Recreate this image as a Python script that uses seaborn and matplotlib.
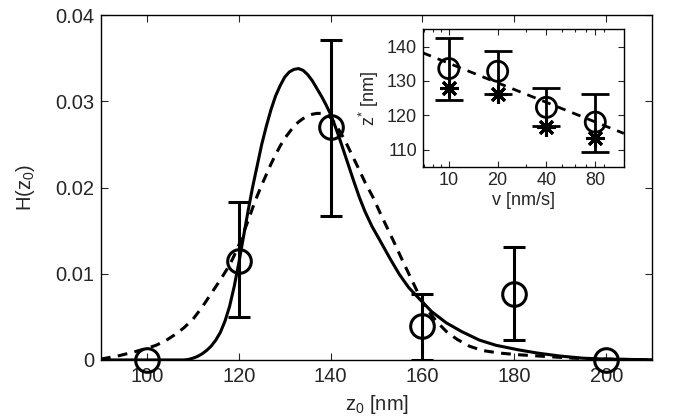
import numpy as np
import pandas as pd
import matplotlib
matplotlib.use("Agg")
import matplotlib.pyplot as plt
from matplotlib.ticker import FixedLocator, NullFormatter
import seaborn as sns

# main panel: histogram points with error bars
z_pts = [100, 120, 140, 160, 180, 200]
h_pts = [0.0, 0.0115, 0.0270, 0.0039, 0.0077, 0.0]
z_err = [120, 140, 160, 180]
h_err = [0.0115, 0.0270, 0.0039, 0.0077]
h_lo = [0.0050, 0.0167, 0.0, 0.0023]
h_hi = [0.0183, 0.0371, 0.0077, 0.0131]

# solid model curve
solid_z = [90, 105, 108, 109, 110, 111, 112, 113, 114, 115, 116, 117, 118, 119, 120, 121,
           122, 123, 124, 125, 126, 127, 128, 129, 130, 131, 132, 133, 134, 135, 136, 137,
           138, 139, 140, 141, 142, 143, 144, 145, 146.3, 147.5, 149, 150.7, 153, 155, 157,
           159.3, 162, 165.2, 168.5, 172.4, 176, 181, 185, 189.8, 195, 200, 210]
solid_h = [0, 0, 0, 0.00005, 0.0002, 0.0004, 0.0007, 0.0011, 0.0016, 0.0023, 0.0032, 0.0045,
           0.0062, 0.0085, 0.0112, 0.0142, 0.0172, 0.0200, 0.0225, 0.0250, 0.0271, 0.0290,
           0.0306, 0.0318, 0.0328, 0.0334, 0.0337, 0.0338, 0.0336, 0.0331, 0.0324, 0.0315,
           0.0306, 0.0296, 0.0285, 0.0271, 0.0256, 0.0240, 0.0224, 0.0208, 0.0188, 0.0172,
           0.0155, 0.0139, 0.0117, 0.0099, 0.0084, 0.0071, 0.0056, 0.0043, 0.0033, 0.0023,
           0.0017, 0.00116, 0.0008, 0.00046, 0.0002, 0.0001, 0.00002]

# dashed model curve
dash_z = [90, 92, 94, 97, 100, 102, 104, 106, 108, 110, 112, 114, 116, 118, 119, 120, 121,
          122, 123, 124, 125, 126, 127, 128, 129, 130, 131, 132, 133, 134, 135, 136, 137,
          138, 139, 140, 141, 142, 143, 144, 145, 146, 147.5, 149.2, 151, 153.6, 155.5,
          157.2, 159, 160.8, 163, 165.2, 167.5, 170.2, 173, 176.7, 181, 186.9, 193, 200, 210]
dash_h = [0.0001, 0.0003, 0.0005, 0.0009, 0.00135, 0.0017, 0.0022, 0.0029, 0.0037, 0.0047,
          0.0061, 0.0077, 0.0093, 0.0110, 0.0121, 0.0133, 0.0147, 0.0161, 0.0176, 0.0190,
          0.0203, 0.0215, 0.0227, 0.0238, 0.0248, 0.0257, 0.0264, 0.0271, 0.0276, 0.0280,
          0.0283, 0.0285, 0.0286, 0.0286, 0.0285, 0.0281, 0.0274, 0.0265, 0.0256, 0.0245,
          0.0234, 0.0223, 0.0206, 0.0189, 0.0168, 0.0139, 0.0117, 0.0098, 0.0078, 0.0060,
          0.0045, 0.0033, 0.0024, 0.0016, 0.0011, 0.0008, 0.0006, 0.0004, 0.0002, 0.0001, 0.0]

# inset: z* vs pulling speed
v_pts = [10, 20, 40, 80]
zs_circ = [133.6, 132.8, 122.3, 118.0]
zs_lo = [124.3, 126.3, 116.8, 109.3]
zs_hi = [142.5, 138.8, 128.0, 126.3]
zs_star = [128.0, 126.3, 116.5, 113.5]
v_fit = [6.9, 120]
zs_fit = [138.2, 114.7]

sns.set_style("white")
plt.rcParams['font.family'] = ['Liberation Sans', 'DejaVu Sans']
plt.rcParams['mathtext.default'] = 'regular'
plt.rcParams['axes.linewidth'] = 1.0
plt.rcParams['xtick.direction'] = 'in'
plt.rcParams['ytick.direction'] = 'in'

fig = plt.figure(figsize=(6.73, 4.2), dpi=100)
ax = fig.add_axes([0.150, 0.143, 0.819, 0.821])

sns.lineplot(x=solid_z, y=solid_h, color='k', lw=2.2, ax=ax, sort=False)
sns.lineplot(x=dash_z, y=dash_h, color='k', lw=2.2, ax=ax, sort=False,
             linestyle=(0, (3.2, 2.4)))
ax.errorbar(z_err, h_err,
            yerr=[np.subtract(h_err, h_lo), np.subtract(h_hi, h_err)],
            fmt='none', ecolor='k', elinewidth=2.2, capsize=8, capthick=2.2)
ax.plot(z_pts, h_pts, 'o', ms=17, mfc='none', mec='k', mew=2.2, clip_on=False, zorder=5)

ax.set_xlim(90, 210)
ax.set_ylim(0, 0.04)
ax.set_xticks([100, 120, 140, 160, 180, 200])
ax.set_yticks([0, 0.01, 0.02, 0.03, 0.04])
ax.set_yticklabels(['0', '0.01', '0.02', '0.03', '0.04'])
ax.tick_params(labelsize=14.5, length=5, width=0.8, bottom=True, left=True,
               top=True, right=True, pad=5)
ax.set_xlabel('z$_0$ [nm]', fontsize=14.5, labelpad=5)
ax.set_ylabel('H(z$_0$)', fontsize=14.5, labelpad=13)
for s in ax.spines.values():
    s.set_color('k')

# inset
axi = fig.add_axes([0.628, 0.603, 0.299, 0.327])
axi.set_xscale('log')
axi.plot(v_fit, zs_fit, color='k', lw=2.0, linestyle=(0, (3.2, 2.6)))
axi.errorbar(v_pts, zs_circ,
             yerr=[np.subtract(zs_circ, zs_lo), np.subtract(zs_hi, zs_circ)],
             fmt='none', ecolor='k', elinewidth=2.0, capsize=10, capthick=2.0)
sns.scatterplot(x=v_pts, y=zs_circ, ax=axi, marker='o', s=210, facecolor='none',
                edgecolor='k', linewidth=2.0, zorder=5)
axi.plot(v_pts, zs_star, linestyle='none', marker=(8, 2, 0), ms=13, mec='k', mew=2.2, zorder=6)
axi.set_xlim(6.9, 120)
axi.set_ylim(105, 145)
axi.xaxis.set_major_locator(FixedLocator(v_pts))
axi.set_xticklabels([str(v) for v in v_pts])
axi.xaxis.set_minor_formatter(NullFormatter())
axi.set_yticks([110, 120, 130, 140])
axi.tick_params(which='both', labelsize=13, bottom=True, left=True, top=True, right=True,
                width=0.8, pad=4)
axi.tick_params(which='major', length=4)
axi.tick_params(which='minor', length=2)
axi.set_xlabel('v [nm/s]', fontsize=13, labelpad=2)
axi.set_ylabel('z$^{*}$ [nm]', fontsize=13, labelpad=4)
for s in axi.spines.values():
    s.set_color('k')

fig.savefig('out.png', dpi=100)
